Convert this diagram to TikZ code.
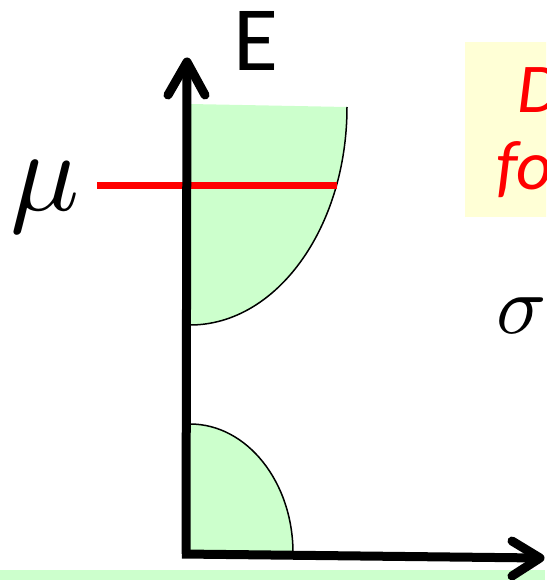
\documentclass[tikz,border=0pt]{standalone}
\usepackage{fontspec}
\newfontfamily\carlito{Carlito}
\definecolor{bandgreen}{HTML}{CCFFCC}
\definecolor{notey}{HTML}{FFFFD6}
\begin{document}
\begin{tikzpicture}[x=1pt,y=-1pt,
  axis/.style={line width=9pt,line cap=round,line join=round},
  bandfill/.style={fill=bandgreen},
  bandedge/.style={line width=1.5pt},
  lbl/.style={inner sep=0pt,anchor=base west}]
\useasboundingbox (0,0) rectangle (546,580);
\clip (0,0) rectangle (546,580);
% bottom green strip
\fill[bandgreen] (0,570) rectangle (545,580);
% yellow note
\fill[notey] (465,42) rectangle (560,217);
\node[lbl,text=red] (d) at (517,113) {\carlito\itshape\fontsize{70}{70}\selectfont D};
\node[lbl,text=red] (fo) at (496,189) {\carlito\itshape\fontsize{70}{70}\selectfont fo};
% upper band
\coordinate (ua) at (190,104);
\coordinate (ub) at (347,107);
\coordinate (uc) at (190,325);
\fill[bandgreen] (ua) -- (ub) .. controls (347,227) and (277,325) .. (uc) -- cycle;
\draw[bandedge] (ub) .. controls (347,227) and (277,325) .. (uc);
% lower band
\coordinate (la) at (190,424);
\coordinate (lb) at (293,553);
\coordinate (lc) at (190,553);
\fill[bandgreen] (la) .. controls (247,424) and (293,482) .. (lb) -- (lc) -- cycle;
\draw[bandedge] (la) .. controls (247,424) and (293,482) .. (lb);
% chemical potential
\coordinate (m1) at (97,185);
\coordinate (m2) at (337,185);
\draw[red,line width=7pt] (m1) -- (m2);
% axes
\coordinate (o) at (186,554);
\coordinate (ytip) at (187,62);
\coordinate (xtip) at (540,558);
\draw[axis,line cap=butt] (186,554) -- (ytip);
\draw[axis] (168,95) -- (ytip) -- (205,95);
\draw[axis,line cap=butt] (182,554) -- (xtip);
\draw[axis] (512,541) -- (xtip) -- (512,576);
% labels
\node[lbl] (E) at (233,71) {\carlito\fontsize{92}{92}\selectfont E};
\node[lbl,scale=11.5] (mu) at (8,210) {$\mu$};
\node[lbl,scale=8.3] (sig) at (495,333) {$\sigma$};
\end{tikzpicture}
\end{document}
